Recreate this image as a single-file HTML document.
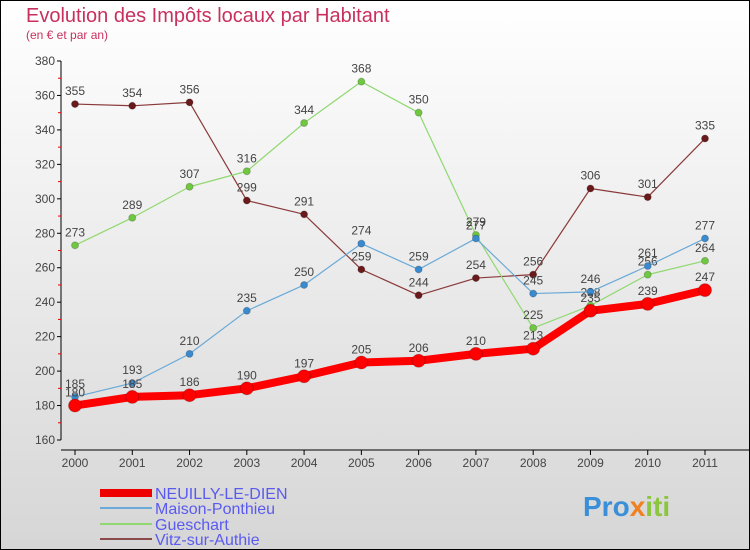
<!DOCTYPE html>
<html><head><meta charset="utf-8"><style>
body{margin:0}
#c{width:750px;height:550px;position:relative;box-sizing:border-box;border:1px solid #000;background:linear-gradient(#fff,#d6d6d6);font-family:"Liberation Sans",sans-serif;overflow:hidden}
</style></head><body>
<div id="c">
<svg id="s" width="750" height="550" style="position:absolute;left:-1px;top:-1px">
<text x="26" y="22" font-size="20" fill="#c8305e">Evolution des Impôts locaux par Habitant</text>
<text x="26" y="39" font-size="12" fill="#c8305e">(en € et par an)</text>
<g id="axes"></g><g id="series"></g>
<g font-size="16" fill="#5a5af0">
<line x1="100" y1="493" x2="152" y2="493" stroke="#e00" stroke-width="8"/><text x="155" y="499">NEUILLY-LE-DIEN</text>
<line x1="100" y1="508" x2="152" y2="508" stroke="#6aaad8" stroke-width="2"/><text x="155" y="514">Maison-Ponthieu</text>
<line x1="100" y1="524" x2="152" y2="524" stroke="#90d870" stroke-width="2"/><text x="155" y="530">Gueschart</text>
<line x1="100" y1="539" x2="152" y2="539" stroke="#8a4a4a" stroke-width="2"/><text x="155" y="545">Vitz-sur-Authie</text>
</g>
<text x="583" y="516" font-size="28" font-weight="bold"><tspan fill="#3a8fd8">Pro</tspan><tspan fill="#f08020">x</tspan><tspan fill="#8cc63f">iti</tspan></text>
</svg>
</div>
<script>
const years=["2000","2001","2002","2003","2004","2005","2006","2007","2008","2009","2010","2011"];
const yTicks=[160,180,200,220,240,260,280,300,320,340,360,380];
const neuilly=[180,185,186,190,197,205,206,210,213,235,239,247];
const maison=[185,193,210,235,250,274,259,277,245,246,261,277];
const gueschart=[273,289,307,316,344,368,350,279,225,238,256,264];
const vitz=[355,354,356,299,291,259,244,254,256,306,301,335];
const NS="http://www.w3.org/2000/svg";
const X=i=>75+i*(630/11);
const Y=v=>440-(v-160)*(379/220);
function mk(t,a,p){const e=document.createElementNS(NS,t);for(const k in a)e.setAttribute(k,a[k]);p.appendChild(e);return e;}
const ax=document.getElementById('axes');
const yl=mk('line',{x1:61,y1:Y(380),x2:61,y2:Y(160),stroke:'#000'},ax);


const xl=mk('line',{x1:61,y1:450,x2:750,y2:450,stroke:'#000'},ax);


yTicks.forEach((v,i)=>{
 mk('line',{x1:57,y1:Y(v),x2:61,y2:Y(v),stroke:'#000'},ax);
 const t=mk('text',{x:55,y:Y(v)+4,'text-anchor':'end','font-size':12,fill:'#444'},ax);t.textContent=v;
 
 
 if(i<yTicks.length-1)mk('line',{x1:58,y1:Y(v+10),x2:61,y2:Y(v+10),stroke:'#e00'},ax);
});
years.forEach((y,i)=>{
 mk('line',{x1:X(i),y1:450,x2:X(i),y2:455,stroke:'#000'},ax);
 const t=mk('text',{x:X(i),y:467,'text-anchor':'middle','font-size':12,fill:'#444'},ax);t.textContent=y;
 
 
});
const sg=document.getElementById('series');
function draw(d,col,w,r,name,dot){
 const g=mk('g',{},sg);
 
 
 mk('polyline',{points:d.map((v,i)=>X(i)+','+Y(v)).join(' '),fill:'none',stroke:col,'stroke-width':w,'stroke-linejoin':'round'},g);
 d.forEach((v,i)=>{
  const c=mk('circle',{cx:X(i),cy:Y(v),r:r,fill:dot,stroke:'rgba(0,0,0,0.2)'},g);
  
  
  const t=mk('text',{x:X(i),y:Y(v)-9,'text-anchor':'middle','font-size':12,fill:'#444'},g);t.textContent=v;
  
  
 });
}
draw(vitz,'#8a3a3a',1.2,3.5,'series-vitz-sur-authie','#6a1a1a');
draw(gueschart,'#90d870',1.2,3.5,'series-gueschart','#70c840');
draw(maison,'#6aaad8',1.2,3.5,'series-maison-ponthieu','#3a8ad0');
draw(neuilly,'#f00',8,6.5,'series-neuilly-le-dien','#f00');
</script>
</body></html>
